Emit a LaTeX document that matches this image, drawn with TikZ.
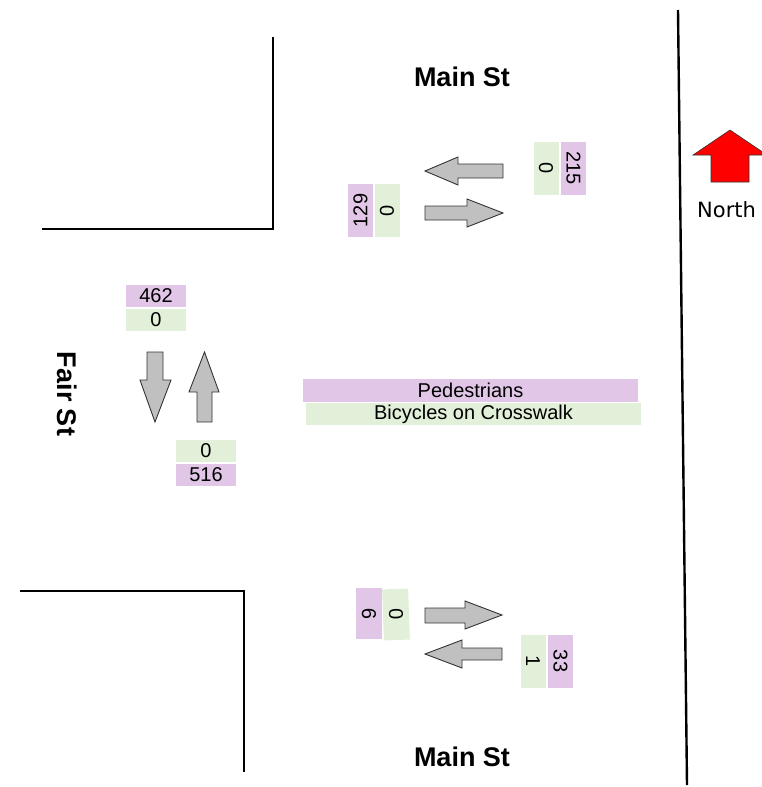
\documentclass[tikz,border=0pt]{standalone}
\usepackage{fontspec}
\setmainfont{Liberation Sans}
\newfontfamily\dejavu{DejaVu Sans}
\definecolor{pur}{HTML}{E1C6E7}
\definecolor{grn}{HTML}{E2EFD9}
\definecolor{arrgray}{HTML}{C0C0C0}
\begin{document}
\begin{tikzpicture}[x=1pt,y=-1pt,
  street/.style={line width=2.4pt, black},
  road/.style={inner sep=0pt, font=\fontsize{27}{30}\bfseries\selectfont},
  cnt/.style={inner sep=0pt, font=\fontsize{20}{22}\selectfont},
  pbox/.style={cnt, fill=pur},
  gbox/.style={cnt, fill=grn},
  hbox/.style={minimum width=60pt, minimum height=22pt},
  vbox/.style={minimum width=53pt, minimum height=25pt},
  flow/.style={fill=arrgray, draw=black!80, line width=0.9pt},
  northarrow/.style={fill=red, draw=black!80, line width=0.6pt},
]
\useasboundingbox (0,0) rectangle (761,787);

% street edges
\draw[street] (42,229) -- (273,229) -- (273,37);
\draw[street] (20,591) -- (244,591) -- (244,772);
\draw[street] (678,10) -- (687,785);

% street names
\node[road] (mainN) at (462,77) {Main St};
\node[road] (mainS) at (462,757) {Main St};
\node[road, rotate=-90] (fair) at (67,394) {Fair St};

% north arrow
\draw[northarrow] (730,130) -- (767,155) -- (749,155) -- (749,182) -- (711,182) -- (711,155) -- (693,155) -- cycle;
\node[inner sep=0pt, anchor=base west, font=\dejavu\fontsize{21}{24}\selectfont] (north) at (697,217) {North};

% north leg (Main St north)
\draw[flow] (425,171) -- (458,157) -- (458,164) -- (503,164) -- (503,178) -- (458,178) -- (458,185) -- cycle;
\draw[flow] (503,213) -- (467,199) -- (467,206) -- (425,206) -- (425,220) -- (467,220) -- (467,227) -- cycle;
\node[pbox, vbox, rotate=90] (nInP) at (360.5,210.5) {129};
\node[gbox, vbox, rotate=90] (nInG) at (387,210.5) {0};
\node[gbox, vbox, rotate=-90] (nOutG) at (546,168) {0};
\node[pbox, vbox, rotate=-90] (nOutP) at (573.5,168) {215};

% west leg (Fair St)
\draw[flow] (155,422) -- (140,380) -- (147,380) -- (147,352) -- (163,352) -- (163,380) -- (171,380) -- cycle;
\draw[flow] (204.5,352) -- (219,392) -- (212,392) -- (212,422) -- (197,422) -- (197,392) -- (189,392) -- cycle;
\node[pbox, hbox] (wInP) at (156,296) {462};
\node[gbox, hbox] (wInG) at (156,320) {0};
\node[gbox, hbox] (wOutG) at (206,451) {0};
\node[pbox, hbox] (wOutP) at (206,475) {516};

% crosswalk legend
\node[pbox, minimum width=335pt, minimum height=23pt] (ped) at (470.5,390.5) {Pedestrians};
\node[gbox, minimum width=335pt, minimum height=22pt] (bike) at (473.5,414) {Bicycles on Crosswalk};

% south leg (Main St south)
\draw[flow] (502,615) -- (465,601) -- (465,608) -- (425,608) -- (425,623) -- (465,623) -- (465,629) -- cycle;
\draw[flow] (425,654) -- (462,640) -- (462,648) -- (502,648) -- (502,660) -- (462,660) -- (462,668) -- cycle;
\node[pbox, minimum width=51pt, minimum height=26pt, rotate=90] (sInP) at (369,613.5) {9};
\node[gbox, minimum width=51pt, minimum height=26pt, rotate=92] (sInG) at (396,614.5) {0};
\node[gbox, vbox, rotate=-90] (sOutG) at (533,661) {1};
\node[pbox, vbox, rotate=-90] (sOutP) at (560.5,661) {33};
\end{tikzpicture}
\end{document}
